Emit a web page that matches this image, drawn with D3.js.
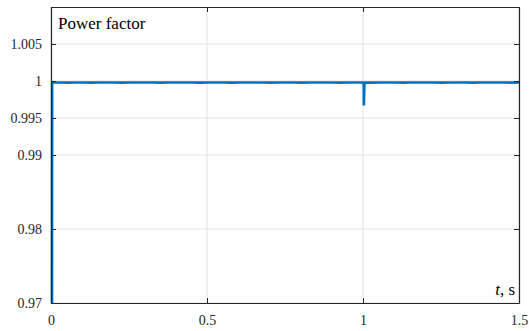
<!DOCTYPE html>
<html lang="en">
  <head>
    <meta charset="UTF-8" />
    <title>Power factor</title>
    <script src="https://d3js.org/d3.v7.min.js"></script>
    <style>
      body {
        margin: 0;
        background: #fff;
      }
      svg text {
        font-family: "Liberation Serif", "Times New Roman", Times, "DejaVu Serif", serif;
      }
    </style>
  </head>
  <body>
    <script>
      // Time samples (s) and power factor values
      const timeValues = [
        0, 0.0005, 0.025, 0.05, 0.075, 0.1, 0.125, 0.15, 0.175, 0.2, 0.225,
        0.25, 0.275, 0.3, 0.325, 0.35, 0.375, 0.4, 0.425, 0.45, 0.475, 0.5,
        0.525, 0.55, 0.575, 0.6, 0.625, 0.65, 0.675, 0.7, 0.725, 0.75, 0.775,
        0.8, 0.825, 0.85, 0.875, 0.9, 0.925, 0.95, 0.975, 0.999, 0.9995,
        1.0015, 1.003, 1.025, 1.05, 1.075, 1.1, 1.125, 1.15, 1.175, 1.2,
        1.225, 1.25, 1.275, 1.3, 1.325, 1.35, 1.375, 1.4, 1.425, 1.45, 1.475,
        1.5
      ];
      const pfValues = [
        0.965, 0.9998, 0.9998, 0.99978, 0.9998, 0.9998, 0.99978, 0.9998,
        0.9998, 0.9998, 0.99978, 0.9998, 0.9998, 0.9998, 0.9998, 0.99978,
        0.9998, 0.9998, 0.9998, 0.9998, 0.99978, 0.9998, 0.9998, 0.9998,
        0.99978, 0.9998, 0.9998, 0.9998, 0.9998, 0.99978, 0.9998, 0.9998,
        0.9998, 0.99978, 0.9998, 0.9998, 0.9998, 0.9998, 0.99978, 0.9998,
        0.9998, 0.9998, 0.9967, 0.9998, 0.9998, 0.99978, 0.9998, 0.9998,
        0.9998, 0.99978, 0.9998, 0.9998, 0.9998, 0.9998, 0.99978, 0.9998,
        0.9998, 0.9998, 0.99978, 0.9998, 0.9998, 0.9998, 0.9998, 0.99978,
        0.9998
      ];
      const xTicks = [0, 0.5, 1, 1.5];
      const xTickLabels = ["0", "0.5", "1", "1.5"];
      const yTicks = [0.97, 0.98, 0.99, 0.995, 1, 1.005];
      const yTickLabels = ["0.97", "0.98", "0.99", "0.995", "1", "1.005"];

      const width = 529;
      const height = 331;
      const margin = { top: 7, right: 10, bottom: 28, left: 51 };
      const innerW = width - margin.left - margin.right;
      const innerH = height - margin.top - margin.bottom;
      const fontStack = '"Liberation Serif", "Times New Roman", Times, "DejaVu Serif", serif';

      const svg = d3
        .select("body")
        .append("svg")
        .attr("width", width)
        .attr("height", height);

      const x = d3.scaleLinear().domain([0, 1.5]).range([0, innerW]);
      const y = d3.scaleLinear().domain([0.97, 1.01]).range([innerH, 0]);

      const g = svg
        .append("g")
        .attr("transform", `translate(${margin.left},${margin.top})`);

      // Grid lines
      g.selectAll(".gx")
        .data(xTicks)
        .join("line")
        .attr("x1", (d) => x(d))
        .attr("x2", (d) => x(d))
        .attr("y1", 0)
        .attr("y2", innerH)
        .attr("stroke", "#e3e3e3")
        .attr("stroke-width", 1);
      g.selectAll(".gy")
        .data(yTicks)
        .join("line")
        .attr("x1", 0)
        .attr("x2", innerW)
        .attr("y1", (d) => y(d))
        .attr("y2", (d) => y(d))
        .attr("stroke", "#e3e3e3")
        .attr("stroke-width", 1);

      // Data line
      const data = timeValues.map((t, i) => ({ t: t, v: pfValues[i] }));
      g.append("clipPath")
        .attr("id", "clip")
        .append("rect")
        .attr("x", -2)
        .attr("y", 0)
        .attr("width", innerW + 4)
        .attr("height", innerH);
      g.append("path")
        .datum(data)
        .attr("clip-path", "url(#clip)")
        .attr("fill", "none")
        .attr("stroke", "#0072BD")
        .attr("stroke-width", 2.6)
        .attr(
          "d",
          d3
            .line()
            .x((d) => x(d.t) + 1)
            .y((d) => y(d.v))
        );

      // Axes (MATLAB-style box with inward ticks)
      const axisColor = "#262626";
      const axisB = d3
        .axisBottom(x)
        .tickValues(xTicks)
        .tickSizeInner(-5)
        .tickSizeOuter(0)
        .tickPadding(12)
        .tickFormat((d, i) => xTickLabels[i]);
      const axisL = d3
        .axisLeft(y)
        .tickValues(yTicks)
        .tickSizeInner(-5)
        .tickSizeOuter(0)
        .tickPadding(9)
        .tickFormat((d, i) => yTickLabels[i]);
      const axisT = d3.axisTop(x).tickValues(xTicks).tickSizeInner(-5).tickSizeOuter(0).tickFormat("");
      const axisR = d3.axisRight(y).tickValues(yTicks).tickSizeInner(-5).tickSizeOuter(0).tickFormat("");

      const styleAxis = (sel) => {
        sel.attr("font-family", fontStack).attr("font-size", 14);
        sel.selectAll("path").attr("stroke", axisColor).attr("stroke-width", 1.2);
        sel.selectAll("line").attr("stroke", axisColor);
        sel.selectAll("text").attr("fill", "#262626");
      };

      g.append("g").attr("transform", `translate(0,${innerH})`).call(axisB).call(styleAxis);
      g.append("g").call(axisL).call(styleAxis);
      g.append("g").call(axisT).call(styleAxis);
      g.append("g").attr("transform", `translate(${innerW},0)`).call(axisR).call(styleAxis);

      // Labels
      g.append("text")
        .attr("x", 7)
        .attr("y", 22)
        .attr("fill", "#000")
        .attr("font-family", fontStack)
        .attr("font-size", 17)
        .text("Power factor");

      const tl = g
        .append("text")
        .attr("x", innerW - 4)
        .attr("y", innerH - 8)
        .attr("text-anchor", "end")
        .attr("fill", "#000")
        .attr("font-family", fontStack)
        .attr("font-size", 17);
      tl.append("tspan").attr("font-style", "italic").text("t");
      tl.append("tspan").text(", s");
    </script>
  </body>
</html>
